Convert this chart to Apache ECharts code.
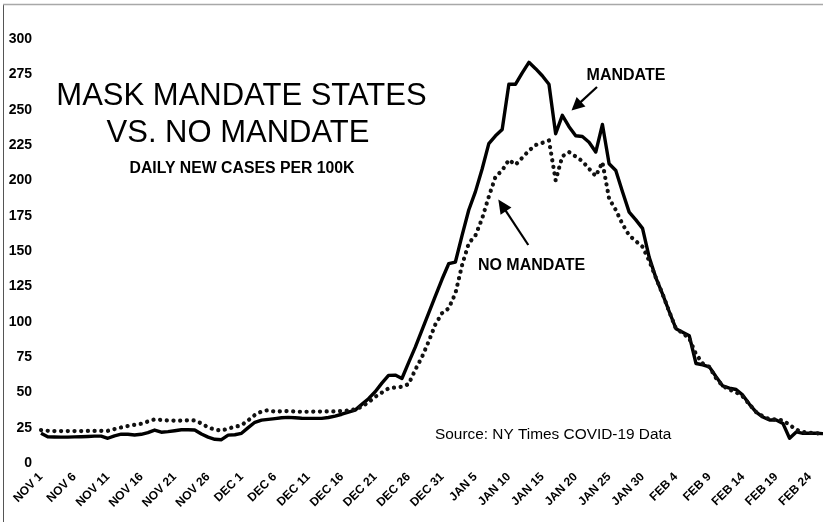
<!DOCTYPE html>
<html>
<head>
<meta charset="utf-8">
<script src="https://cdn.jsdelivr.net/npm/echarts@6/dist/echarts.min.js"></script>
<style>
html,body{margin:0;padding:0;background:#fff;}
#chart{width:823px;height:522px;}
</style>
</head>
<body>
<div id="chart"></div>
<script>
// Month blocks used to build the daily category labels (Nov 1 .. Feb 26)
var months = [['NOV', 30], ['DEC', 31], ['JAN', 31], ['FEB', 26]];
var categories = [];
months.forEach(function (m) { for (var d = 1; d <= m[1]; d++) categories.push(m[0] + ' ' + d); });

var yTicks = [0, 25, 50, 75, 100, 125, 150, 175, 200, 225, 250, 275, 300];

// Daily new cases per 100K, states with a mask mandate
var mandate = [
  21, 18.6, 18.4, 18.3, 18.3, 18.5, 18.6, 18.8, 19, 19,
  17.5, 19.2, 20.4, 20.3, 19.8, 20.3, 21.5, 23.3, 21.8, 22.2,
  22.8, 23.5, 23.5, 23.4, 20.5, 18.3, 16.8, 16.5, 19.7, 20,
  21, 25, 28.8, 30.3, 30.9, 31.4, 32, 32.3, 32, 31.7,
  31.6, 31.6, 31.6, 32.2, 33.2, 34.5, 36, 37.4, 41.5, 45.5,
  50.4, 56.5, 62, 62.2, 59.8, 71, 82, 94, 106, 118,
  130, 141, 142.2, 161, 179, 192, 208, 226, 231.5, 236,
  268, 268, 276, 283.5, 279, 274, 268, 233, 246, 238,
  231.5, 231, 227, 220, 239.5, 211.7, 207, 192, 177.5, 172,
  166, 145.5, 131, 119.5, 107, 95, 92.5, 90, 70.4, 69.5,
  68, 61, 54.5, 53, 52, 48, 41.5, 36, 32.5, 30.4,
  30.4, 28, 17.5, 22, 21, 21, 21, 20.8
];

// Daily new cases per 100K, states without a mask mandate
var noMandate = [
  23.3, 22.8, 22.6, 22.6, 22.6, 22.6, 22.6, 22.7, 22.7, 22.7,
  22.8, 24, 25.2, 26.2, 27, 27.8, 29.4, 30.9, 30.5, 30.1,
  29.9, 30, 30.2, 30.1, 28, 25.2, 23.7, 22.9, 24.4, 25.6,
  26.7, 30.2, 34, 36.5, 37.4, 36.3, 36.6, 36.8, 36.4, 36.2,
  36.3, 36.4, 36.4, 36.5, 36.5, 36.8, 37.2, 38, 39.8, 43,
  46.8, 49.8, 52.8, 53.5, 53.9, 55.8, 66, 75, 86, 98,
  106, 109.5, 120, 140, 155.5, 161, 173, 188.5, 202.5, 207,
  214.5, 211, 216, 221, 225, 226.5, 228.2, 200, 217, 220,
  216.8, 213.5, 208.2, 203, 212.8, 187, 179, 169, 161, 157,
  153, 143, 131, 119.5, 107, 95, 92, 88, 77, 70.5,
  68, 60, 54.5, 52, 50, 47, 41.5, 36, 33, 31,
  30.8, 30.2, 27, 23.5, 22, 21.5, 21, 20.8
];

var FONT = '"Liberation Sans", Arial, Helvetica, sans-serif';
var chart = echarts.init(document.getElementById('chart'), null, {renderer: 'canvas'});

function arrow(tail, tip, headLen, halfW) {
  var dx = tip[0] - tail[0], dy = tip[1] - tail[1];
  var L = Math.sqrt(dx * dx + dy * dy);
  var ux = dx / L, uy = dy / L, nx = -uy, ny = ux;
  var bx = tip[0] - headLen * ux, by = tip[1] - headLen * uy;
  return [
    {type: 'line', shape: {x1: tail[0], y1: tail[1], x2: bx + ux, y2: by + uy},
     style: {stroke: '#000', lineWidth: 2.2}, z: 10},
    {type: 'polygon', shape: {points: [[tip[0], tip[1]], [bx + halfW * nx, by + halfW * ny], [bx - halfW * nx, by - halfW * ny]]},
     style: {fill: '#000'}, z: 10}
  ];
}

var graphics = [
  {type: 'line', shape: {x1: 3.5, y1: 4, x2: 3.5, y2: 522}, style: {stroke: '#555', lineWidth: 1}},
  {type: 'line', shape: {x1: 3, y1: 4.5, x2: 823, y2: 4.5}, style: {stroke: '#a8a8a8', lineWidth: 1.5}},
  {type: 'text', x: 241.5, y: 96.5, style: {text: 'MASK MANDATE STATES', font: 'normal 31px ' + FONT, fill: '#000', textAlign: 'center', textVerticalAlign: 'middle'}},
  {type: 'text', x: 238, y: 133.5, style: {text: 'VS. NO MANDATE', font: 'normal 31px ' + FONT, fill: '#000', textAlign: 'center', textVerticalAlign: 'middle'}},
  {type: 'text', x: 242, y: 169, style: {text: 'DAILY NEW CASES PER 100K', font: 'bold 15.8px ' + FONT, fill: '#000', textAlign: 'center', textVerticalAlign: 'middle'}},
  {type: 'text', x: 626, y: 75.5, style: {text: 'MANDATE', font: 'bold 16px ' + FONT, fill: '#000', textAlign: 'center', textVerticalAlign: 'middle'}},
  {type: 'text', x: 531.5, y: 266, style: {text: 'NO MANDATE', font: 'bold 16px ' + FONT, fill: '#000', textAlign: 'center', textVerticalAlign: 'middle'}},
  {type: 'text', x: 435, y: 434.5, style: {text: 'Source: NY Times COVID-19 Data', font: 'normal 15.4px ' + FONT, fill: '#000', textAlign: 'left', textVerticalAlign: 'middle'}}
].concat(arrow([597, 87], [571.5, 110.5], 13, 6.5))
 .concat(arrow([528.3, 245], [498.3, 199.5], 14, 6.5));

chart.setOption({
  animation: false,
  backgroundColor: '#fff',
  grid: {left: 41, right: -4, top: 39, bottom: 59, containLabel: false},
  xAxis: {
    type: 'category',
    data: categories,
    boundaryGap: false,
    axisLine: {show: false},
    axisTick: {show: false},
    splitLine: {show: false},
    axisLabel: {
      interval: 4, rotate: 45, margin: 12,
      fontFamily: FONT, fontWeight: 'bold', fontSize: 12, color: '#000'
    }
  },
  yAxis: {
    type: 'value',
    min: yTicks[0], max: yTicks[yTicks.length - 1], interval: 25,
    axisLine: {show: false},
    axisTick: {show: false},
    splitLine: {show: false},
    axisLabel: {margin: 9, fontFamily: FONT, fontWeight: 'bold', fontSize: 14, color: '#000'}
  },
  series: [
    {
      name: 'MANDATE', type: 'line', data: mandate, symbol: 'none', smooth: false,
      lineStyle: {color: '#000', width: 3.4, join: 'round'}, z: 3
    },
    {
      name: 'NO MANDATE', type: 'line', data: noMandate, symbol: 'none', smooth: false,
      lineStyle: {color: '#111', width: 4.2, type: [0.1, 6.6], cap: 'round', join: 'round'}, z: 4
    }
  ],
  graphic: graphics
});
</script>
</body>
</html>
